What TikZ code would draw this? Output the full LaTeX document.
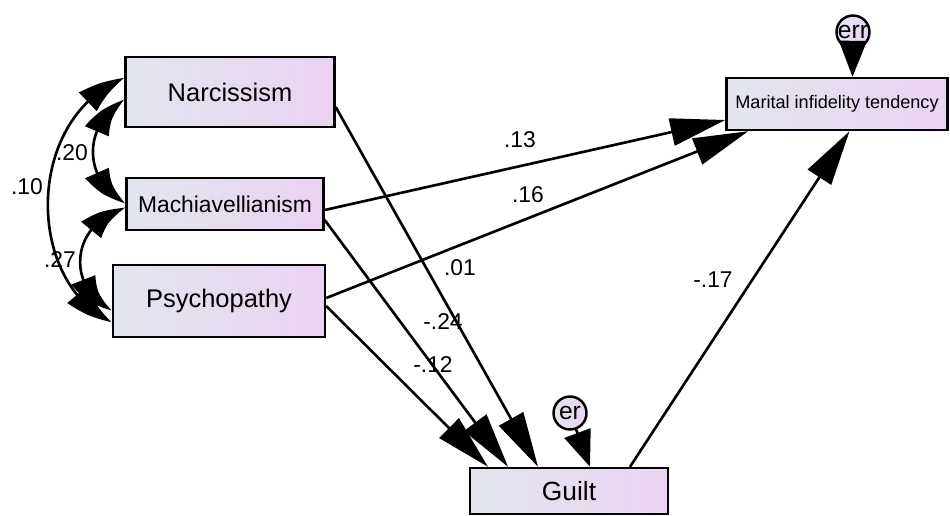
\documentclass[tikz,border=0pt]{standalone}
\usepackage{fontspec}
\setmainfont{Liberation Sans}
\usetikzlibrary{arrows.meta,bending}

\definecolor{boxleft}{HTML}{E2E5EE}
\definecolor{boxright}{HTML}{EAD3F0}

\begin{document}
\begin{tikzpicture}[x=0.02cm, y=-0.02cm,
  varbox/.style={draw, line width=1.4pt, left color=boxleft, right color=boxright, inner sep=0pt},
  errc/.style={circle, draw, line width=1.4pt, left color=boxleft, right color=boxright, inner sep=0pt, minimum size=0.66cm, font=\fontsize{14}{14}\selectfont},
  effect/.style={line width=1.5pt, -{Triangle[length=1.1cm, width=0.55cm]}},
  erreffect/.style={line width=1.5pt, -{Triangle[length=0.72cm, width=0.55cm]}},
  cov/.style={line width=1.5pt, {Triangle[length=0.9cm, width=0.5cm, bend]}-{Triangle[length=0.9cm, width=0.5cm, bend]}},
  coef/.style={font=\fontsize{13}{13}\selectfont}]

  \useasboundingbox (0,0) rectangle (950,515);

  % variables observadas
  \node[varbox, minimum width=4.18cm, minimum height=1.4cm, font=\fontsize{14.5}{17}\selectfont] (nar) at (230,92) {Narcissism};
  \node[varbox, minimum width=3.94cm, minimum height=1.04cm, font=\fontsize{13}{15}\selectfont] (mach) at (225,204) {Machiavellianism};
  \node[varbox, minimum width=4.24cm, minimum height=1.44cm, font=\fontsize{14.5}{17}\selectfont] (psy) at (219,301) {Psychopathy};
  \node[varbox, minimum width=4.42cm, minimum height=1.04cm, font=\fontsize{10.3}{12}\selectfont] (mar) at (837,104) {Marital infidelity tendency};
  \node[varbox, minimum width=3.96cm, minimum height=0.92cm, font=\fontsize{15}{17}\selectfont] (guilt) at (569,491) {Guilt};

  % errores
  \node[errc] (err) at (853,32) {err};
  \node[errc] (er) at (570,413) {er};

  \draw[erreffect] (err) -- ([xshift=0.31cm]mar.north);
  \draw[erreffect] (er) -- ([xshift=0.42cm]guilt.north);

  % efectos directos
  \draw[effect] ([yshift=-0.3cm]nar.east) -- ([xshift=-0.62cm]guilt.north);
  \draw[effect] ([yshift=-0.12cm]mach.east) -- ([yshift=-0.32cm]mar.west);
  \draw[effect] ([yshift=-0.32cm]mach.east) -- ([xshift=-1.22cm]guilt.north);
  \draw[effect] ([yshift=0.06cm]psy.east) -- ([xshift=0.46cm]mar.south west);
  \draw[effect] ([yshift=-0.1cm]psy.east) -- ([xshift=-1.62cm]guilt.north);
  \draw[effect] ([xshift=1.22cm]guilt.north) -- ([xshift=0.25cm]mar.south);

  % covarianzas
  \draw[cov] ([yshift=0.28cm]nar.west) .. controls +(-100,40) and +(-87,-40) .. ([yshift=-0.42cm]psy.west);
  \draw[cov] ([yshift=-0.16cm]nar.west) .. controls +(-42,25) and +(-43,-23) .. ([yshift=0.02cm]mach.west);
  \draw[cov] ([yshift=-0.08cm]mach.west) .. controls +(-58,17) and +(-44,-20) .. ([yshift=-0.18cm]psy.west);

  % coeficientes
  \node[coef] (c10) at (27,187) {.10};
  \node[coef] (c20) at (72,153) {.20};
  \node[coef] (c27) at (60,260) {.27};
  \node[coef] (c13) at (520,140) {.13};
  \node[coef] (c16) at (528,195) {.16};
  \node[coef] (c01) at (460,268) {.01};
  \node[coef] (c24) at (443,322) {-.24};
  \node[coef] (c12) at (433,365) {-.12};
  \node[coef] (c17) at (713,280) {-.17};

\end{tikzpicture}
\end{document}
